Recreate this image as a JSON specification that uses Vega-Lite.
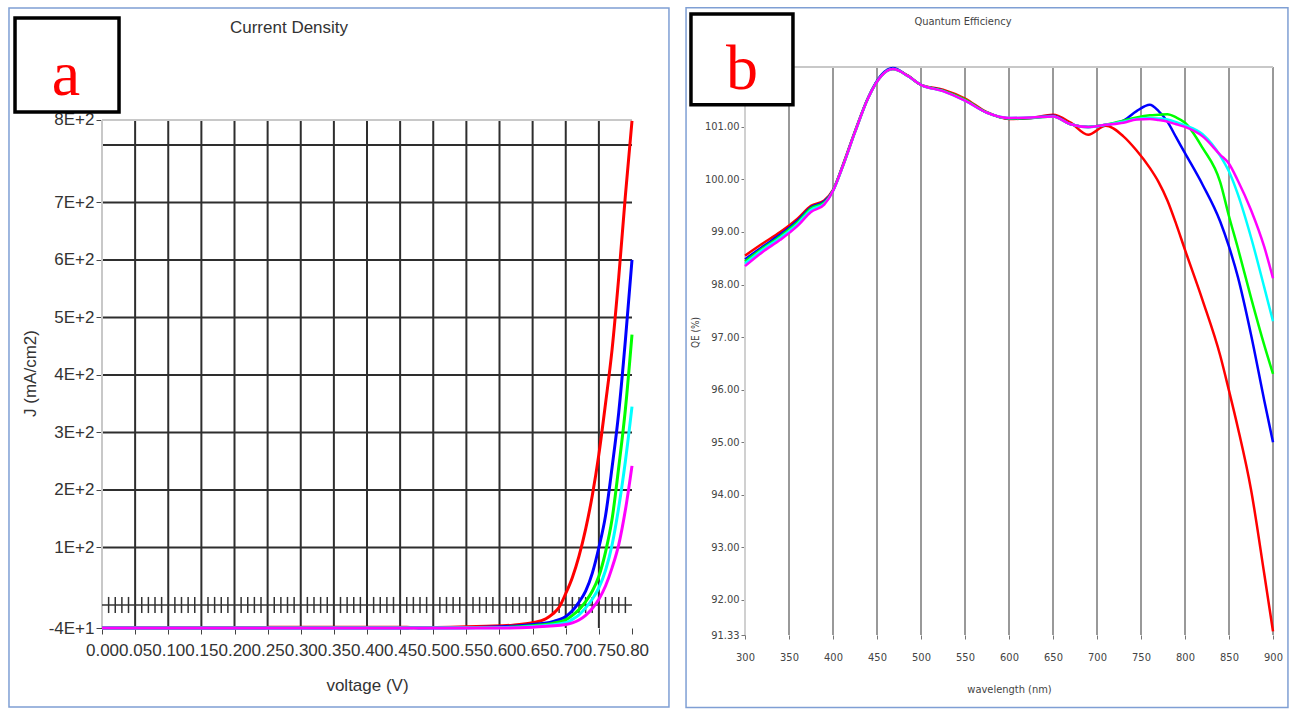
{
  "$schema": "https://vega.github.io/schema/vega-lite/v6.json",
  "background": "white",
  "padding": {"left": 8, "top": 6, "right": 0, "bottom": 0},
  "spacing": 15,
  "config": {"view": {"stroke": null}, "font": "Liberation Sans", "axis": {"labelOverlap": false, "labelFlush": false}},
  "hconcat": [
    {
      "width": 530,
      "height": 561,
      "layer": [
        {
          "data": {"values": [{}]},
          "mark": {"type": "rect", "fill": "transparent", "stroke": "#7f9fd4", "strokeWidth": 1.5, "clip": false},
          "encoding": {"x": {"datum": -0.1404, "axis": {"values": [0,0.05,0.1,0.15,0.2,0.25,0.3,0.35,0.4,0.45,0.5,0.55,0.6,0.65,0.7,0.75,0.8], "format": ".2f", "labelOverlap": false, "title": "voltage (V)"}}, "x2": {"datum": 0.8558}, "y": {"datum": 1038}, "y2": {"datum": -177.4}}
        },
        {
          "data": {"values": [{"g": 0.05}, {"g": 0.1}, {"g": 0.15}, {"g": 0.2}, {"g": 0.25}, {"g": 0.3}, {"g": 0.35}, {"g": 0.4}, {"g": 0.45}, {"g": 0.5}, {"g": 0.55}, {"g": 0.6}, {"g": 0.65}, {"g": 0.7}, {"g": 0.75}]},
          "mark": {"type": "rule", "color": "#2e2e2e", "strokeWidth": 2},
          "encoding": {"x": {"field": "g", "type": "quantitative", "axis": {"values": [0,0.05,0.1,0.15,0.2,0.25,0.3,0.35,0.4,0.45,0.5,0.55,0.6,0.65,0.7,0.75,0.8], "format": ".2f", "labelOverlap": false, "title": "voltage (V)"}}, "y": {"datum": -40}, "y2": {"datum": 843.5}}
        },
        {
          "data": {"values": [{"j": 100}, {"j": 200}, {"j": 300}, {"j": 400}, {"j": 500}, {"j": 600}, {"j": 700}, {"j": 800}]},
          "mark": {"type": "rule", "color": "#2e2e2e", "strokeWidth": 2},
          "encoding": {"y": {"field": "j", "type": "quantitative"}, "x": {"datum": 0, "axis": {"values": [0,0.05,0.1,0.15,0.2,0.25,0.3,0.35,0.4,0.45,0.5,0.55,0.6,0.65,0.7,0.75,0.8], "format": ".2f", "labelOverlap": false, "title": "voltage (V)"}}, "x2": {"datum": 0.8}}
        },
        {
          "data": {"values": [{}]},
          "mark": {"type": "rule", "color": "#c8c8c8", "strokeWidth": 2},
          "encoding": {"x": {"datum": 0, "axis": {"values": [0,0.05,0.1,0.15,0.2,0.25,0.3,0.35,0.4,0.45,0.5,0.55,0.6,0.65,0.7,0.75,0.8], "format": ".2f", "labelOverlap": false, "title": "voltage (V)"}}, "y": {"datum": -40}, "y2": {"datum": 843.5}}
        },
        {
          "data": {"values": [{}]},
          "mark": {"type": "rule", "color": "#c8c8c8", "strokeWidth": 2},
          "encoding": {"y": {"datum": 843.5}, "x": {"datum": 0, "axis": {"values": [0,0.05,0.1,0.15,0.2,0.25,0.3,0.35,0.4,0.45,0.5,0.55,0.6,0.65,0.7,0.75,0.8], "format": ".2f", "labelOverlap": false, "title": "voltage (V)"}}, "x2": {"datum": 0.8}}
        },
        {
          "data": {"values": [{}]},
          "mark": {"type": "rule", "color": "#333", "strokeWidth": 1.5},
          "encoding": {"y": {"datum": 0}, "x": {"datum": 0, "axis": {"values": [0,0.05,0.1,0.15,0.2,0.25,0.3,0.35,0.4,0.45,0.5,0.55,0.6,0.65,0.7,0.75,0.8], "format": ".2f", "labelOverlap": false, "title": "voltage (V)"}}, "x2": {"datum": 0.8}}
        },
        {
          "data": {"values": [{"h":0.01},{"h":0.02},{"h":0.03},{"h":0.04},{"h":0.06},{"h":0.07},{"h":0.08},{"h":0.09},{"h":0.11},{"h":0.12},{"h":0.13},{"h":0.14},{"h":0.16},{"h":0.17},{"h":0.18},{"h":0.19},{"h":0.21},{"h":0.22},{"h":0.23},{"h":0.24},{"h":0.26},{"h":0.27},{"h":0.28},{"h":0.29},{"h":0.31},{"h":0.32},{"h":0.33},{"h":0.34},{"h":0.36},{"h":0.37},{"h":0.38},{"h":0.39},{"h":0.41},{"h":0.42},{"h":0.43},{"h":0.44},{"h":0.46},{"h":0.47},{"h":0.48},{"h":0.49},{"h":0.51},{"h":0.52},{"h":0.53},{"h":0.54},{"h":0.56},{"h":0.57},{"h":0.58},{"h":0.59},{"h":0.61},{"h":0.62},{"h":0.63},{"h":0.64},{"h":0.66},{"h":0.67},{"h":0.68},{"h":0.69},{"h":0.71},{"h":0.72},{"h":0.73},{"h":0.74},{"h":0.76},{"h":0.77},{"h":0.78},{"h":0.79}]},
          "mark": {"type": "rule", "color": "#333", "strokeWidth": 1.5},
          "encoding": {"x": {"field": "h", "type": "quantitative", "axis": {"values": [0,0.05,0.1,0.15,0.2,0.25,0.3,0.35,0.4,0.45,0.5,0.55,0.6,0.65,0.7,0.75,0.8], "format": ".2f", "labelOverlap": false, "title": "voltage (V)"}}, "y": {"datum": -14}, "y2": {"datum": 14}}
        },
        {
          "data": {"values": [
            {"s":"s1","v":0,"j":-40},{"s":"s1","v":0.245,"j":-40},{"s":"s1","v":0.25,"j":-38.5},{"s":"s1","v":0.46,"j":-38.5},{"s":"s1","v":0.47,"j":-39.5},{"s":"s1","v":0.55,"j":-38},{"s":"s1","v":0.58,"j":-37},{"s":"s1","v":0.62,"j":-35},{"s":"s1","v":0.65,"j":-31},{"s":"s1","v":0.67,"j":-24},{"s":"s1","v":0.68,"j":-16},{"s":"s1","v":0.69,"j":-4},{"s":"s1","v":0.7,"j":20},{"s":"s1","v":0.71,"j":48},{"s":"s1","v":0.72,"j":85},{"s":"s1","v":0.73,"j":132},{"s":"s1","v":0.74,"j":190},{"s":"s1","v":0.75,"j":262},{"s":"s1","v":0.76,"j":350},{"s":"s1","v":0.77,"j":445},{"s":"s1","v":0.78,"j":570},{"s":"s1","v":0.79,"j":712},{"s":"s1","v":0.8,"j":842},
            {"s":"s2","v":0,"j":-40},{"s":"s2","v":0.46,"j":-40},{"s":"s2","v":0.47,"j":-39},{"s":"s2","v":0.48,"j":-40},{"s":"s2","v":0.55,"j":-39.5},{"s":"s2","v":0.6,"j":-38},{"s":"s2","v":0.65,"j":-34},{"s":"s2","v":0.68,"j":-29},{"s":"s2","v":0.7,"j":-20},{"s":"s2","v":0.71,"j":-10},{"s":"s2","v":0.72,"j":5},{"s":"s2","v":0.73,"j":24},{"s":"s2","v":0.74,"j":55},{"s":"s2","v":0.75,"j":100},{"s":"s2","v":0.76,"j":155},{"s":"s2","v":0.77,"j":240},{"s":"s2","v":0.78,"j":335},{"s":"s2","v":0.79,"j":460},{"s":"s2","v":0.8,"j":600},
            {"s":"s3","v":0,"j":-40},{"s":"s3","v":0.6,"j":-39},{"s":"s3","v":0.65,"j":-36},{"s":"s3","v":0.68,"j":-32},{"s":"s3","v":0.7,"j":-26},{"s":"s3","v":0.71,"j":-18},{"s":"s3","v":0.72,"j":-8},{"s":"s3","v":0.73,"j":6},{"s":"s3","v":0.74,"j":24},{"s":"s3","v":0.75,"j":50},{"s":"s3","v":0.76,"j":92},{"s":"s3","v":0.77,"j":150},{"s":"s3","v":0.78,"j":240},{"s":"s3","v":0.79,"j":340},{"s":"s3","v":0.8,"j":470},
            {"s":"s4","v":0,"j":-40},{"s":"s4","v":0.6,"j":-39.5},{"s":"s4","v":0.65,"j":-37.5},{"s":"s4","v":0.7,"j":-31},{"s":"s4","v":0.71,"j":-25},{"s":"s4","v":0.72,"j":-17},{"s":"s4","v":0.73,"j":-5},{"s":"s4","v":0.74,"j":10},{"s":"s4","v":0.75,"j":30},{"s":"s4","v":0.76,"j":60},{"s":"s4","v":0.77,"j":105},{"s":"s4","v":0.78,"j":170},{"s":"s4","v":0.79,"j":250},{"s":"s4","v":0.8,"j":345},
            {"s":"s5","v":0,"j":-40},{"s":"s5","v":0.6,"j":-40},{"s":"s5","v":0.65,"j":-38.5},{"s":"s5","v":0.7,"j":-34},{"s":"s5","v":0.71,"j":-31},{"s":"s5","v":0.72,"j":-26},{"s":"s5","v":0.73,"j":-18},{"s":"s5","v":0.74,"j":-6},{"s":"s5","v":0.75,"j":10},{"s":"s5","v":0.76,"j":33},{"s":"s5","v":0.77,"j":65},{"s":"s5","v":0.78,"j":105},{"s":"s5","v":0.79,"j":165},{"s":"s5","v":0.8,"j":242}
          ]},
          "mark": {"type": "line", "strokeWidth": 3, "interpolate": "monotone"},
          "encoding": {
            "x": {"field": "v", "type": "quantitative", "scale": {"domain": [0, 0.8], "nice": false, "zero": false},
              "axis": {"values": [0,0.05,0.1,0.15,0.2,0.25,0.3,0.35,0.4,0.45,0.5,0.55,0.6,0.65,0.7,0.75,0.8], "format": ".2f", "labelFontSize": 17, "labelColor": "#333", "labelOverlap": false, "labelFlush": false, "grid": false, "domain": false, "tickColor": "#444", "tickSize": 6, "labelPadding": 8, "title": "voltage (V)", "titleFontSize": 17, "titleFontWeight": "normal", "titleColor": "#333", "titlePadding": 19}},
            "y": {"field": "j", "type": "quantitative", "scale": {"domain": [-40, 935.6], "nice": false, "zero": false},
              "axis": {"values": [-40,100,200,300,400,500,600,700,843.5], "labelExpr": "datum.value < 0 ? '-4E+1' : datum.value > 800 ? '8E+2' : format(datum.value/100,'d') + 'E+2'", "grid": false, "domain": false, "tickColor": "#444", "tickSize": 6, "labelFontSize": 17, "labelColor": "#333", "labelPadding": 2, "title": "J (mA/cm2)", "titleFontSize": 17, "titleFontWeight": "normal", "titleColor": "#333", "titleX": -63, "titleY": 306}},
            "color": {"field": "s", "type": "nominal", "scale": {"domain": ["s1","s2","s3","s4","s5"], "range": ["#ff0000","#0000ff","#00ff00","#00ffff","#ff00ff"]}, "legend": null}
          }
        },
        {
          "data": {"values": [{}]},
          "mark": {"type": "rect", "fill": "white", "stroke": "black", "strokeWidth": 3.5, "clip": false},
          "encoding": {"x": {"datum": -0.1313, "axis": {"values": [0,0.05,0.1,0.15,0.2,0.25,0.3,0.35,0.4,0.45,0.5,0.55,0.6,0.65,0.7,0.75,0.8], "format": ".2f", "labelOverlap": false, "title": "voltage (V)"}}, "x2": {"datum": 0.0257}, "y": {"datum": 1021}, "y2": {"datum": 857.4}}
        },
        {
          "data": {"values": [{}]},
          "mark": {"type": "text", "text": "a", "font": "Liberation Serif", "fontSize": 64, "color": "#ff0000", "baseline": "alphabetic", "align": "center", "clip": false},
          "encoding": {"x": {"datum": -0.0543, "axis": {"values": [0,0.05,0.1,0.15,0.2,0.25,0.3,0.35,0.4,0.45,0.5,0.55,0.6,0.65,0.7,0.75,0.8], "format": ".2f", "labelOverlap": false, "title": "voltage (V)"}}, "y": {"datum": 887}}
        },
        {
          "data": {"values": [{}]},
          "mark": {"type": "text", "text": "Current Density", "fontSize": 17, "color": "#333", "baseline": "middle", "align": "center", "clip": false},
          "encoding": {"x": {"datum": 0.2823, "axis": {"values": [0,0.05,0.1,0.15,0.2,0.25,0.3,0.35,0.4,0.45,0.5,0.55,0.6,0.65,0.7,0.75,0.8], "format": ".2f", "labelOverlap": false, "title": "voltage (V)"}}, "y": {"datum": 1003.5}}
        }
      ]
    },
    {
      "width": 528,
      "height": 568,
      "layer": [
        {
          "data": {"values": [{}]},
          "mark": {"type": "rect", "fill": "transparent", "stroke": "#7f9fd4", "strokeWidth": 1.5, "clip": false},
          "encoding": {"x": {"datum": 233}, "x2": {"datum": 917}, "y": {"datum": 103.27}, "y2": {"datum": 89.95}}
        },
        {
          "data": {"values": [{"g":350},{"g":400},{"g":450},{"g":500},{"g":550},{"g":600},{"g":650},{"g":700},{"g":750},{"g":800},{"g":850},{"g":900}]},
          "mark": {"type": "rule", "color": "#999", "strokeWidth": 2},
          "encoding": {"x": {"field": "g", "type": "quantitative"}, "y": {"datum": 91.33}, "y2": {"datum": 102.14}}
        },
        {
          "data": {"values": [{}]},
          "mark": {"type": "rule", "color": "#d0d0d0", "strokeWidth": 2},
          "encoding": {"x": {"datum": 300}, "y": {"datum": 91.33}, "y2": {"datum": 102.14}}
        },
        {
          "data": {"values": [{}]},
          "mark": {"type": "rule", "color": "#c8c8c8", "strokeWidth": 2},
          "encoding": {"y": {"datum": 102.14}, "x": {"datum": 300}, "x2": {"datum": 900}}
        },
        {
          "data": {"values": [
            {"w":300,"s1":98.55,"s2":98.48,"s3":98.44,"s4":98.40,"s5":98.35},
            {"w":320,"s1":98.78,"s2":98.72,"s3":98.69,"s4":98.66,"s5":98.62},
            {"w":340,"s1":99.00,"s2":98.95,"s3":98.92,"s4":98.89,"s5":98.85},
            {"w":360,"s1":99.26,"s2":99.22,"s3":99.19,"s4":99.16,"s5":99.12},
            {"w":375,"s1":99.50,"s2":99.47,"s3":99.45,"s4":99.42,"s5":99.38},
            {"w":390,"s1":99.60,"s2":99.58,"s3":99.56,"s4":99.54,"s5":99.52},
            {"w":400,"s1":99.80,"s2":99.79,"s3":99.79,"s4":99.78,"s5":99.78},
            {"w":410,"s1":100.22,"s2":100.21,"s3":100.2,"s4":100.2,"s5":100.2},
            {"w":425,"s1":100.92,"s2":100.91,"s3":100.9,"s4":100.9,"s5":100.9},
            {"w":440,"s1":101.56,"s2":101.56,"s3":101.55,"s4":101.55,"s5":101.55},
            {"w":455,"s1":101.98,"s2":101.99,"s3":101.97,"s4":101.97,"s5":101.97},
            {"w":468,"s1":102.1,"s2":102.12,"s3":102.1,"s4":102.1,"s5":102.1},
            {"w":485,"s1":101.98,"s2":101.97,"s3":101.97,"s4":101.97,"s5":101.97},
            {"w":500,"s1":101.8,"s2":101.8,"s3":101.8,"s4":101.8,"s5":101.8},
            {"w":525,"s1":101.71,"s2":101.69,"s3":101.69,"s4":101.68,"s5":101.68},
            {"w":550,"s1":101.54,"s2":101.51,"s3":101.52,"s4":101.5,"s5":101.5},
            {"w":575,"s1":101.28,"s2":101.27,"s3":101.27,"s4":101.27,"s5":101.27},
            {"w":600,"s1":101.15,"s2":101.16,"s3":101.16,"s4":101.17,"s5":101.17},
            {"w":625,"s1":101.17,"s2":101.17,"s3":101.17,"s4":101.18,"s5":101.18},
            {"w":650,"s1":101.23,"s2":101.21,"s3":101.2,"s4":101.2,"s5":101.2},
            {"w":670,"s1":101.08,"s2":101.05,"s3":101.05,"s4":101.05,"s5":101.05},
            {"w":690,"s1":100.85,"s2":101.0,"s3":101.0,"s4":101.0,"s5":101.0},
            {"w":710,"s1":101.02,"s2":101.04,"s3":101.04,"s4":101.04,"s5":101.04},
            {"w":730,"s1":100.82,"s2":101.12,"s3":101.12,"s4":101.1,"s5":101.08},
            {"w":745,"s1":100.55,"s2":101.3,"s3":101.18,"s4":101.15,"s5":101.14},
            {"w":760,"s1":100.22,"s2":101.42,"s3":101.22,"s4":101.17,"s5":101.15},
            {"w":770,"s1":99.95,"s2":101.3,"s3":101.23,"s4":101.16,"s5":101.13},
            {"w":780,"s1":99.6,"s2":101.1,"s3":101.24,"s4":101.14,"s5":101.1},
            {"w":790,"s1":99.15,"s2":100.8,"s3":101.18,"s4":101.09,"s5":101.05},
            {"w":800,"s1":98.66,"s2":100.5,"s3":101.08,"s4":101.03,"s5":101.0},
            {"w":820,"s1":97.7,"s2":99.9,"s3":100.6,"s4":100.86,"s5":100.82},
            {"w":840,"s1":96.65,"s2":99.2,"s3":99.95,"s4":100.45,"s5":100.47},
            {"w":850,"s1":95.98,"s2":98.72,"s3":99.3,"s4":100.15,"s5":100.3},
            {"w":860,"s1":95.28,"s2":98.15,"s3":98.7,"s4":99.72,"s5":99.98},
            {"w":875,"s1":94.1,"s2":97.05,"s3":97.75,"s4":98.9,"s5":99.42},
            {"w":890,"s1":92.5,"s2":95.8,"s3":96.85,"s4":97.95,"s5":98.72},
            {"w":900,"s1":91.4,"s2":95.0,"s3":96.3,"s4":97.3,"s5":98.12}
          ]},
          "transform": [{"fold": ["s1","s2","s3","s4","s5"], "as": ["s","q"]}],
          "mark": {"type": "line", "strokeWidth": 2.5, "interpolate": "monotone"},
          "encoding": {
            "x": {"field": "w", "type": "quantitative", "scale": {"domain": [300, 900], "nice": false, "zero": false},
              "axis": {"values": [300,350,400,450,500,550,600,650,700,750,800,850,900], "format": "d", "labelFont": "DejaVu Sans Condensed, Liberation Sans, sans-serif", "labelFontSize": 11, "labelColor": "#444", "labelOverlap": false, "labelFlush": false, "grid": false, "domain": false, "tickColor": "#777", "tickSize": 4, "labelPadding": 12, "title": "wavelength (nm)", "titleFont": "DejaVu Sans Condensed, Liberation Sans, sans-serif", "titleFontSize": 11, "titleFontWeight": "normal", "titleColor": "#444", "titlePadding": 21}},
            "y": {"field": "q", "type": "quantitative", "scale": {"domain": [91.33, 102.14], "nice": false, "zero": false},
              "axis": {"values": [91.33,92,93,94,95,96,97,98,99,100,101], "format": ".2f", "labelFont": "DejaVu Sans Condensed, Liberation Sans, sans-serif", "labelFontSize": 11, "labelColor": "#444", "labelOverlap": false, "grid": false, "domain": false, "tickColor": "#777", "tickSize": 4, "labelPadding": 2, "title": "QE (%)", "titleFont": "DejaVu Sans Condensed, Liberation Sans, sans-serif", "titleFontSize": 10, "titleFontWeight": "normal", "titleColor": "#444", "titleX": -45, "titleY": 265}},
            "color": {"field": "s", "type": "nominal", "scale": {"domain": ["s1","s2","s3","s4","s5"], "range": ["#ff0000","#0000ff","#00ff00","#00ffff","#ff00ff"]}, "legend": null}
          }
        },
        {
          "data": {"values": [{}]},
          "mark": {"type": "rect", "fill": "white", "stroke": "black", "strokeWidth": 3.5, "clip": false},
          "encoding": {"x": {"datum": 238.6}, "x2": {"datum": 354.5}, "y": {"datum": 103.15}, "y2": {"datum": 101.42}}
        },
        {
          "data": {"values": [{}]},
          "mark": {"type": "text", "text": "b", "font": "Liberation Serif", "fontSize": 64, "color": "#ff0000", "baseline": "alphabetic", "align": "center", "clip": false},
          "encoding": {"x": {"datum": 296.6}, "y": {"datum": 101.72}}
        },
        {
          "data": {"values": [{}]},
          "mark": {"type": "text", "text": "Quantum Efficiency", "font": "DejaVu Sans Condensed, Liberation Sans, sans-serif", "fontSize": 11, "color": "#444", "baseline": "middle", "align": "center", "clip": false},
          "encoding": {"x": {"datum": 547.7}, "y": {"datum": 103.0}}
        }
      ]
    }
  ]
}
